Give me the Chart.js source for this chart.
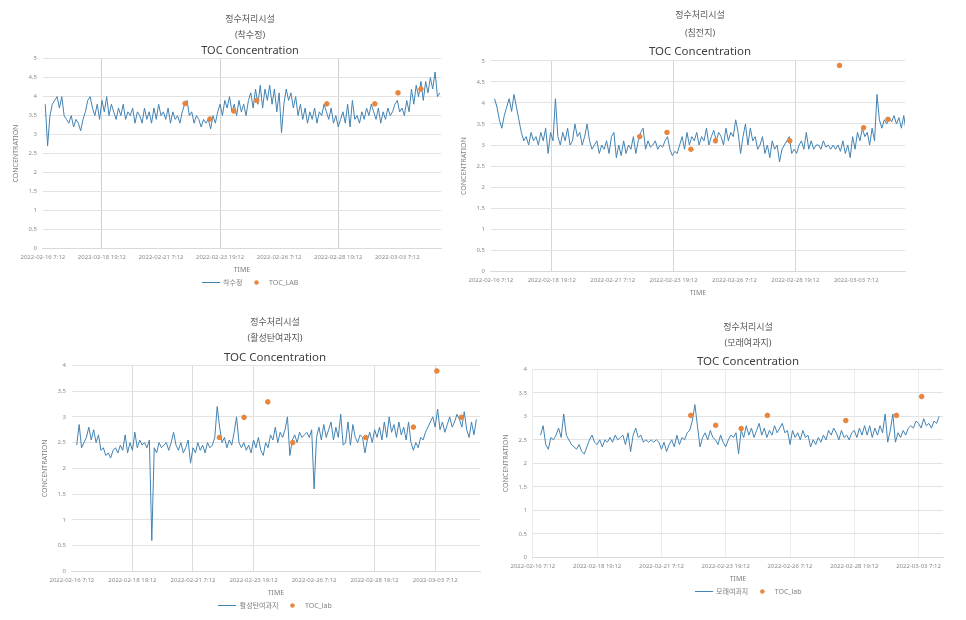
<!DOCTYPE html>
<html>
<head>
<meta charset="utf-8">
<script src="https://cdn.jsdelivr.net/npm/chart.js@4.4.0/dist/chart.umd.min.js"></script>
<style>
body { margin: 0; background: #fff; width: 966px; height: 620px; overflow: hidden; position: relative; }
.box { position: absolute; overflow: hidden; }
canvas { display: block; }
</style>
</head>
<body>
<div class="box" style="left:0px;top:10px;width:500px;height:288px"><canvas id="c1" width="500" height="288"></canvas></div>
<div class="box" style="left:446px;top:4px;width:508px;height:296px"><canvas id="c2" width="508" height="317"></canvas></div>
<div class="box" style="left:28px;top:313px;width:494px;height:307px"><canvas id="c3" width="494" height="308"></canvas></div>
<div class="box" style="left:486px;top:318px;width:528px;height:289px"><canvas id="c4" width="528" height="289"></canvas></div>
<script>
// time axis: days since 2022-02-16 7:12, one reading every 0.1 day
var tickDays = [0, 2.5, 5, 7.5, 10, 12.5, 15];
var tickLabels = ['2022-02-16 7:12', '2022-02-18 19:12', '2022-02-21 7:12', '2022-02-23 19:12', '2022-02-26 7:12', '2022-02-28 19:12', '2022-03-03 7:12'];
var STEP = 0.1;

// 착수정
var s1Start = 0.1;
var s1Vals = [
    3.8, 2.7, 3.5, 3.8, 3.9, 4.0, 3.7, 4.0, 3.5, 3.4,
    3.3, 3.5, 3.2, 3.4, 3.3, 3.1, 3.4, 3.6, 3.9, 4.0,
    3.7, 3.5, 3.8, 3.4, 3.9, 3.6, 4.0, 3.5, 3.8, 3.6,
    3.4, 3.7, 3.5, 3.8, 3.4, 3.6, 3.5, 3.7, 3.3, 3.6,
    3.5, 3.3, 3.7, 3.4, 3.6, 3.3, 3.7, 3.4, 3.8, 3.5,
    3.6, 3.4, 3.7, 3.3, 3.6, 3.4, 3.5, 3.3, 3.6, 3.8,
    3.9, 3.5, 3.6, 3.3, 3.5, 3.4, 3.2, 3.4, 3.3, 3.4,
    3.15, 3.5, 3.3, 3.6, 3.8, 3.5, 3.9, 3.7, 4.0, 3.6,
    3.8, 3.5, 3.9, 3.6, 3.8, 3.5, 3.9, 4.1, 3.7, 4.2,
    3.8, 4.3, 3.7, 4.2, 3.9, 4.3, 3.8, 4.2, 3.6, 4.1,
    3.05, 3.8, 4.2, 3.9, 4.1, 3.7, 4.0, 3.5, 3.8, 3.4,
    3.7, 3.3, 3.6, 3.4, 3.7, 3.3, 3.6, 3.5, 3.8, 3.6,
    3.4, 3.7, 3.3, 3.5, 3.2, 3.4, 3.6, 3.3, 3.8, 3.2,
    3.9, 3.4, 3.5, 3.3, 3.6, 3.4, 3.7, 3.5, 3.8, 3.6,
    3.4, 3.7, 3.3, 3.6, 3.4, 3.7, 3.5, 3.6, 3.8, 3.9,
    3.6, 3.7, 3.5, 3.9, 3.6, 4.2, 3.8, 4.3, 4.0, 4.4,
    3.9, 4.4, 4.1, 4.5, 4.2, 4.65, 4.0, 4.1
];
var lab1Days = [6.02, 7.07, 8.08, 9.05, 12.02, 14.05, 15.03, 16.0];
var lab1Vals = [3.82, 3.41, 3.62, 3.9, 3.81, 3.81, 4.1, 4.2];

// 침전지
var s2Start = 0.15;
var s2Vals = [
    4.1, 3.9, 3.6, 3.4, 3.7, 3.9, 4.1, 3.8, 4.2, 3.9,
    3.6, 3.3, 3.1, 3.2, 3.0, 3.3, 3.1, 3.2, 3.0, 3.3,
    3.1, 3.4, 2.8, 3.3, 3.1, 4.1, 3.2, 3.0, 3.3, 3.1,
    3.4, 3.0, 3.1, 3.5, 3.2, 3.3, 3.0, 3.2, 3.5, 3.1,
    2.9, 3.0, 3.1, 2.8, 3.0, 2.9, 3.1, 2.8, 3.2, 3.3,
    2.7, 3.0, 2.75, 3.1, 2.8, 3.0, 2.9, 3.2, 2.8, 3.1,
    3.3, 3.4, 2.9, 3.1, 2.95, 3.0, 3.1, 2.9, 3.0, 2.95,
    3.1, 3.2, 2.9, 2.75, 2.85, 2.8, 3.0, 3.2, 2.9, 3.3,
    3.0, 3.2, 3.1, 3.3, 3.0, 3.2, 3.1, 3.4, 3.0, 3.2,
    3.35, 3.1, 3.3, 3.2, 3.0, 3.4, 3.1, 3.3, 3.2, 3.6,
    3.3, 2.8, 3.2, 3.5, 3.0, 3.4, 3.1, 3.2, 2.9, 3.0,
    3.2, 2.8, 3.0, 2.7, 3.1, 2.9, 3.0, 2.6, 2.9, 3.0,
    3.1, 3.2, 2.8, 2.9, 2.8, 3.0, 3.1, 2.9, 3.3, 2.9,
    3.1, 2.9, 3.0, 3.0, 2.9, 3.1, 2.95, 3.0, 2.9, 3.0,
    2.9, 3.0, 2.85, 3.1, 2.8, 3.0, 2.7, 3.2, 2.9, 3.3,
    3.1, 3.4, 3.2, 3.3, 3.0, 3.4, 3.1, 4.2, 3.6, 3.4,
    3.6, 3.5, 3.65, 3.55, 3.7, 3.5, 3.65, 3.4, 3.7, 3.3
];
var lab2Days = [6.11, 7.23, 8.21, 9.22, 12.27, 14.31, 15.3, 16.3];
var lab2Vals = [3.2, 3.3, 2.9, 3.1, 3.1, 4.89, 3.41, 3.61];

// 활성탄여과지
var s3Start = 0.2;
var s3Vals = [
    2.45, 2.85, 2.4, 2.5, 2.6, 2.8, 2.55, 2.75,
    2.5, 2.65, 2.35, 2.4, 2.25, 2.3, 2.2, 2.35, 2.4, 2.3,
    2.45, 2.35, 2.65, 2.3, 2.5, 2.35, 2.7, 2.4, 2.55, 2.45,
    2.5, 2.4, 2.55, 0.6, 2.4, 2.3, 2.5, 2.4, 2.45, 2.5,
    2.35, 2.5, 2.7, 2.45, 2.35, 2.5, 2.3, 2.4, 2.55, 2.1,
    2.4, 2.3, 2.5, 2.35, 2.45, 2.3, 2.5, 2.4, 2.45, 2.6,
    3.2, 2.8, 2.5, 2.6, 2.4, 2.55, 2.45, 2.7, 3.0, 2.5,
    2.4, 2.5, 2.35, 2.45, 2.3, 2.55, 2.4, 2.6, 2.35, 2.25,
    2.5, 2.4, 2.65, 2.55, 2.8, 2.5, 2.7, 2.6, 2.75, 3.0,
    2.25, 2.55, 2.65, 2.5, 2.7, 2.6, 2.65, 2.7, 2.6, 2.75,
    1.6, 2.6, 2.8, 2.55, 2.85, 2.6, 2.75, 2.9, 2.55, 2.8,
    2.6, 3.05, 2.45, 2.5, 2.9, 2.45, 2.85, 2.6, 2.5, 2.65,
    2.6, 2.3, 2.55, 2.7, 2.5, 2.75, 2.6, 2.8, 2.55, 2.9,
    2.6, 3.0, 2.7, 2.85, 2.6, 2.9, 2.65, 2.8, 2.55, 2.9,
    2.5, 2.35, 2.5, 2.4, 2.6, 2.55, 2.7, 2.8, 2.9, 3.0,
    2.8, 3.15, 2.75, 2.9, 2.7, 2.85, 3.0, 2.8, 2.9, 3.05,
    2.95, 2.8, 3.1, 2.75, 2.6, 2.9, 2.65, 2.95
];
var lab3Days = [6.09, 7.11, 8.09, 9.12, 12.13, 14.1, 15.07, 16.08];
var lab3Vals = [2.6, 2.99, 3.29, 2.5, 2.6, 2.8, 3.89, 2.99];

// 모래여과지
var s4Start = 0.3;
var s4Vals = [
    2.6, 2.8, 2.4, 2.3, 2.55, 2.5, 2.6,
    2.75, 2.55, 3.05, 2.6, 2.5, 2.4, 2.35, 2.3, 2.4, 2.25,
    2.2, 2.35, 2.5, 2.6, 2.45, 2.4, 2.5, 2.35, 2.5, 2.45,
    2.55, 2.45, 2.6, 2.5, 2.55, 2.6, 2.4, 2.65, 2.25, 2.6,
    2.75, 2.55, 2.6, 2.45, 2.5, 2.45, 2.5, 2.45, 2.5, 2.45,
    2.3, 2.45, 2.25, 2.4, 2.5, 2.35, 2.6, 2.4, 2.55, 2.5,
    2.65, 2.7, 2.9, 3.25, 2.8, 2.35, 2.55, 2.65, 2.5, 2.7,
    2.55, 2.5, 2.4, 2.6, 2.45, 2.35, 2.5, 2.6, 2.55, 2.65,
    2.2, 2.7, 2.55, 2.8, 2.6, 2.75, 2.55, 2.7, 2.85, 2.6,
    2.75, 2.55, 2.7, 2.6, 2.8, 2.65, 2.75, 2.85, 2.65, 2.7,
    2.4, 2.7, 2.55, 2.65, 2.5, 2.7, 2.55, 2.6, 2.35, 2.5,
    2.4, 2.55, 2.45, 2.6, 2.5, 2.7, 2.6, 2.75, 2.65, 2.5,
    2.7, 2.55, 2.6, 2.5, 2.65, 2.7, 2.55, 2.75, 2.6, 2.8,
    2.6, 2.8, 2.55, 2.75, 2.6, 2.8, 2.65, 3.05, 2.45, 2.7,
    3.05, 2.45, 2.65, 2.55, 2.7, 2.6, 2.75, 2.8, 2.75, 2.9,
    2.85, 2.75, 2.95, 2.8, 2.85, 2.75, 2.9, 2.85, 3.0
];
var lab4Days = [6.14, 7.11, 8.1, 9.12, 12.17, 14.14, 15.12];
var lab4Vals = [3.02, 2.81, 2.74, 3.02, 2.91, 3.02, 3.42];

var LINE_COLOR = '#4283b3';
var LAB_COLOR = '#e8843c';

Chart.defaults.font.family = '"Noto Sans", "Noto Sans CJK KR", sans-serif';
Chart.defaults.color = '#8c8c8c';

// small legend icons: a short line and a dot
function makeIcon(kind) {
    var c = document.createElement('canvas');
    var g = c.getContext('2d');
    if (kind == 'line') {
        c.width = 18; c.height = 3;
        g.fillStyle = LINE_COLOR;
        g.fillRect(0, 1, 18, 1);
    } else {
        c.width = 5; c.height = 5;
        g.fillStyle = LAB_COLOR;
        g.beginPath();
        g.arc(2.5, 2.5, 2.2, 0, Math.PI * 2);
        g.fill();
    }
    return c;
}
var legendIcons = [makeIcon('dot'), makeIcon('line')];

function drawChart(id, spec) {
    var linePts = spec.vals.map(function (v, i) {
        return {x: spec.start + i * STEP, y: v};
    });
    var labPts = spec.labDays.map(function (d, i) {
        return {x: d, y: spec.labVals[i]};
    });
    var ctx = document.getElementById(id).getContext('2d');
    return new Chart(ctx, {
        type: 'scatter',
        data: {
            datasets: [{
                label: spec.labName,
                data: labPts,
                backgroundColor: LAB_COLOR,
                borderColor: LAB_COLOR,
                pointRadius: 2.3
            }, {
                label: spec.name,
                data: linePts,
                showLine: true,
                borderColor: LINE_COLOR,
                backgroundColor: LINE_COLOR,
                borderWidth: 1,
                pointRadius: 0,
                tension: 0
            }]
        },
        options: {
            responsive: false,
            animation: false,
            layout: {padding: spec.pad},
            plugins: {
                tooltip: {enabled: false},
                title: {
                    display: true,
                    text: ['정수처리시설', '(' + spec.name + ')'],
                    color: '#595959',
                    font: {size: 9, weight: 'normal', lineHeight: spec.titleLH},
                    padding: {top: 2, bottom: 0}
                },
                subtitle: {
                    display: true,
                    text: 'TOC Concentration',
                    color: '#404040',
                    font: {size: spec.subSize, weight: 'normal'},
                    padding: spec.subPad
                },
                legend: {
                    position: 'bottom',
                    reverse: true,
                    labels: {
                        usePointStyle: true,
                        pointStyleWidth: 18,
                        boxHeight: 5,
                        font: {size: 7},
                        color: '#808080',
                        padding: 5,
                        generateLabels: function (chart) {
                            var items = Chart.defaults.plugins.legend.labels.generateLabels(chart);
                            items.forEach(function (it) { it.pointStyle = legendIcons[it.datasetIndex]; });
                            return items;
                        }
                    }
                }
            },
            scales: {
                x: {
                    type: 'linear',
                    min: 0,
                    max: spec.xMax,
                    afterBuildTicks: function (scale) {
                        scale.ticks = tickDays.map(function (d) { return {value: d}; });
                    },
                    ticks: {
                        font: {size: 6},
                        maxRotation: 0,
                        autoSkip: false,
                        padding: 5,
                        callback: function (v) {
                            var i = tickDays.indexOf(v);
                            return i >= 0 ? tickLabels[i] : '';
                        }
                    },
                    grid: {
                        drawTicks: false,
                        color: function (c) {
                            return spec.vLines.indexOf(c.index) >= 0 ? spec.vColor : 'rgba(0,0,0,0)';
                        }
                    },
                    border: {color: '#d9d9d9'},
                    title: {display: true, text: 'TIME', font: {size: 7}, color: '#808080', padding: {top: 0, bottom: 0}}
                },
                y: {
                    min: 0,
                    max: spec.yMax,
                    ticks: {
                        stepSize: 0.5,
                        font: {size: 6},
                        padding: 6,
                        callback: function (v) { return String(Number(v)); }
                    },
                    grid: {drawTicks: false, color: '#e2e2e2'},
                    border: {display: false},
                    title: {display: true, text: 'CONCENTRATION', font: {size: 7}, color: '#808080', padding: {top: 0, bottom: 2}}
                },
                // empty strip on the right so the titles sit over the whole panel
                gap: {
                    type: 'linear',
                    position: 'right',
                    grid: {display: false},
                    border: {display: false},
                    ticks: {display: false},
                    afterFit: function (scale) { scale.width = spec.rightGap; }
                }
            }
        }
    });
}

drawChart('c1', {name: '착수정', labName: 'TOC_LAB', start: s1Start, vals: s1Vals, labDays: lab1Days, labVals: lab1Vals,
    xMax: 16.85, yMax: 5, vLines: [1, 3, 5], vColor: '#cfcfcf', titleLH: 1.75, subSize: 11, subPad: {top: 1, bottom: 1},
    pad: {left: 12, right: 12, top: 0, bottom: 2}, rightGap: 47});
drawChart('c2', {name: '침전지', labName: 'TOC_LAB', start: s2Start, vals: s2Vals, labDays: lab2Days, labVals: lab2Vals,
    xMax: 17.0, yMax: 5, vLines: [1, 3, 5], vColor: '#d6d6d6', titleLH: 2.0, subSize: 11.5, subPad: {top: 3, bottom: 2},
    pad: {left: 14, right: 14, top: 0, bottom: 2}, rightGap: 35});
drawChart('c3', {name: '활성탄여과지', labName: 'TOC_lab', start: s3Start, vals: s3Vals, labDays: lab3Days, labVals: lab3Vals,
    xMax: 16.85, yMax: 4, vLines: [1, 2, 3, 5, 6], vColor: '#dcdcdc', titleLH: 1.75, subSize: 11.5, subPad: {top: 4, bottom: 1},
    pad: {left: 13, right: 13, top: 0, bottom: 2}, rightGap: 29});
drawChart('c4', {name: '모래여과지', labName: 'TOC_lab', start: s4Start, vals: s4Vals, labDays: lab4Days, labVals: lab4Vals,
    xMax: 15.95, yMax: 4, vLines: [0, 1, 2, 3, 4, 5, 6], vColor: '#ececec', titleLH: 1.75, subSize: 11.5, subPad: {top: 3, bottom: 1},
    pad: {left: 16, right: 20, top: 0, bottom: 2}, rightGap: 51});
</script>
</body>
</html>
